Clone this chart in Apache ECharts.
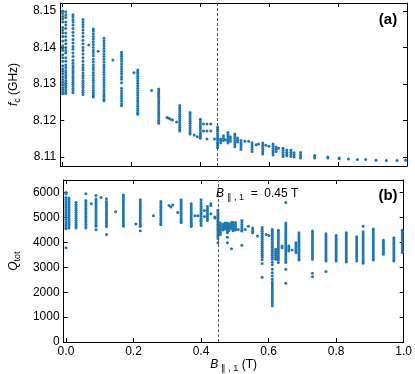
<!DOCTYPE html>
<html>
<head>
<meta charset="utf-8">
<script src="https://cdn.jsdelivr.net/npm/echarts@6/dist/echarts.min.js"></script>
<style>
html,body{margin:0;padding:0;background:#fff;}
#c{width:415px;height:374px;}
</style>
</head>
<body>
<div id="c"></div>
<script>
// ---- data ----
const xTicks = [0, 0.2, 0.4, 0.6, 0.8, 1.0];
const fcTicks = [8.11, 8.12, 8.13, 8.14, 8.15];
const qTicks = [0, 1000, 2000, 3000, 4000, 5000, 6000];
const bMarker = 0.45;

// panel (a): field values (T) and resonance frequencies (GHz) measured at each field
const fcB = [0, 0.009, 0.03, 0.059, 0.076, 0.089, 0.103, 0.12, 0.146, 0.171, 0.207, 0.218, 0.258, 0.279,
  0.303, 0.308, 0.313, 0.319, 0.331, 0.34, 0.37, 0.382, 0.391, 0.4, 0.409, 0.419, 0.43, 0.441, 0.45,
  0.459, 0.467, 0.473, 0.48, 0.487, 0.5, 0.508, 0.518, 0.529, 0.54, 0.55, 0.562, 0.569, 0.581, 0.59,
  0.599, 0.611, 0.62, 0.627, 0.64, 0.651, 0.663, 0.672, 0.691, 0.732, 0.77, 0.803, 0.83, 0.856, 0.88,
  0.91, 0.94, 0.971, 0.996];
const fcVals = [
  [8.1500,8.1493,8.1485,8.1478,8.1470,8.1455,8.1447,8.1440,8.1430,8.1418,8.1405,8.1398,8.1392,8.1380,8.1372,8.1362,8.1350,8.1342,8.1335,8.1328,8.1320,8.1312,8.1305,8.1298,8.1290,8.1284,8.1278,8.1273],
  [8.1498,8.1490,8.1482,8.1470,8.1462,8.1452,8.1440,8.1430,8.1420,8.1410,8.1400,8.1392,8.1385,8.1372,8.1362,8.1352,8.1345,8.1337,8.1330,8.1323,8.1316,8.1309,8.1302,8.1296,8.1290,8.1284,8.1278,8.1274],
  [8.1490,8.1484,8.1477,8.1470,8.1462,8.1452,8.1442,8.1432,8.1422,8.1412,8.1403,8.1395,8.1385,8.1375,8.1365,8.1357,8.1350,8.1343,8.1336,8.1330,8.1323,8.1317,8.1311,8.1305,8.1299,8.1293,8.1287,8.1281,8.1276],
  [8.1477,8.1470,8.1463,8.1456,8.1448,8.1440,8.1430,8.1420,8.1410,8.1400,8.1392,8.1382,8.1372,8.1362,8.1353,8.1345,8.1338,8.1330,8.1323,8.1316,8.1309,8.1302,8.1296,8.1290,8.1283,8.1277,8.1271],
  [8.1407],
  [8.1451,8.1445,8.1438,8.1430,8.1423,8.1416,8.1408,8.1400,8.1392,8.1385,8.1377,8.1368,8.1360,8.1352,8.1345,8.1338,8.1331,8.1324,8.1317,8.1310,8.1303,8.1296,8.1289,8.1282,8.1276,8.1270,8.1264],
  [8.1390],
  [8.1425,8.1418,8.1411,8.1404,8.1397,8.1390,8.1382,8.1375,8.1368,8.1360,8.1353,8.1346,8.1339,8.1332,8.1325,8.1318,8.1311,8.1304,8.1297,8.1290,8.1283,8.1276,8.1270,8.1264,8.1258,8.1254],
  [8.1366],
  [8.1387,8.1381,8.1375,8.1369,8.1362,8.1355,8.1348,8.1341,8.1334,8.1327,8.1320,8.1313,8.1303,8.1288,8.1281,8.1274,8.1267,8.1260,8.1253,8.1246,8.1240],
  [8.1331],
  [8.1338,8.1333,8.1327,8.1321,8.1315,8.1309,8.1302,8.1295,8.1288,8.1282,8.1276,8.1270,8.1263,8.1257,8.1251,8.1245,8.1239,8.1233,8.1227,8.1222,8.1217],
  [8.1282],
  [8.1286,8.1281,8.1276,8.1271,8.1266,8.1260,8.1254,8.1248,8.1242,8.1236,8.1230,8.1224,8.1218,8.1212,8.1206,8.1200,8.1196,8.1192],
  [8.1208],[8.1206],[8.1203],[8.1201],[8.1196],
  [8.1241,8.1235,8.1229,8.1223,8.1217,8.1211,8.1205,8.1199,8.1193,8.1187,8.1181,8.1176,8.1171],
  [8.1222,8.1216,8.1210,8.1204,8.1198,8.1192,8.1186,8.1180,8.1174,8.1168,8.1163],
  [8.1160],[8.1155],
  [8.1203,8.1197,8.1191,8.1185,8.1179,8.1173,8.1167,8.1161,8.1156,8.1151],
  [8.1190,8.1171],
  [8.1190,8.1171,8.1149],
  [8.1190,8.1171],
  [8.1149],
  [8.1181,8.1176,8.1170,8.1164,8.1158,8.1152,8.1146,8.1140,8.1135,8.1130,8.1125],
  [8.1149,8.1144,8.1139],
  [8.1158,8.1152,8.1145],
  [8.1147],
  [8.1167,8.1161,8.1155,8.1149,8.1143,8.1138],
  [8.1155,8.1149,8.1143],
  [8.1163,8.1157,8.1151,8.1145,8.1139,8.1133,8.1128],
  [8.1152,8.1146,8.1141],
  [8.1145,8.1139,8.1133,8.1127,8.1121],
  [8.1143],[8.1143],
  [8.1139,8.1133,8.1127,8.1121,8.1115],
  [8.1133],[8.1135],
  [8.1138,8.1132,8.1126,8.1120,8.1114,8.1108],
  [8.1132],[8.1129],
  [8.1135,8.1129,8.1123,8.1117,8.1111,8.1105],
  [8.1127,8.1121,8.1115],
  [8.1124],
  [8.1124,8.1118,8.1112,8.1106,8.1101],
  [8.1119,8.1113,8.1108,8.1103],
  [8.1119,8.1113,8.1107,8.1101],
  [8.1111,8.1105,8.1100],
  [8.1112,8.1106,8.1100,8.1097],
  [8.1104,8.1100,8.1097],
  [8.1100,8.1097],
  [8.1097,8.1095],
  [8.1094],[8.1093],[8.1093],[8.1091],[8.1090],[8.1090],[8.1091]
];

// panel (b): field values (T) and total quality factors measured at each field
const qB = [0, 0.009, 0.03, 0.059, 0.075, 0.089, 0.104, 0.12, 0.147, 0.17, 0.207, 0.22, 0.259, 0.281,
  0.305, 0.311, 0.316, 0.331, 0.341, 0.371, 0.382, 0.391, 0.4, 0.41, 0.419, 0.429, 0.441, 0.45,
  0.457, 0.465, 0.471, 0.478, 0.483, 0.49, 0.495, 0.502, 0.51, 0.521, 0.531, 0.54, 0.553, 0.567,
  0.581, 0.593, 0.601, 0.611, 0.621, 0.629, 0.64, 0.651, 0.66, 0.67, 0.681, 0.69, 0.73, 0.77, 0.8,
  0.83, 0.861, 0.88, 0.91, 0.94, 0.971, 0.996];
const qVals = [
  [6000,5950,5800,5720,5640,5560,5480,5400,5320,5240,5160,5080,5000,4920,4840,4760,4680,4600,4550,3780],
  [5780,5700,5620,5540,5460,5380,5300,5220,5140,5060,4980,4900,4820,4740,4660,4580],
  [5600,5520,5440,5360,5280,5200,5120,5040,4960,4880,4800,4720,4640,4580],
  [5950,5680,5600,5520,5440,5360,5280,5200,5120,5040,4960,4880,4800,4720,4640,4580],
  [5550],
  [5880,5740,5660,5580,5500,5420,5340,5260,5180,5100,5020,4940,4860,4780,4700,4650,4510],
  [5800],
  [5750,5640,5560,5480,5400,5320,5240,5160,5080,5000,4920,4840,4760,4680,4640,4310],
  [5230],
  [5900,5820,5740,5660,5580,5500,5420,5340,5260,5180,5100,5020,4940,4860,4780,4700,4650],
  [4740],
  [5710,5630,5550,5470,5390,5310,5230,5150,5070,4990,4910,4830,4750,4680,4640,4470],
  [5070],
  [5640,5560,5480,5400,5320,5240,5160,5080,5000,4920,4840,4760,4710],
  [5480],[5420],[5500],[5200],
  [5710,5630,5550,5470,5390,5310,5230,5150,5070,4990,4910,4840,4800],
  [5550,5470,5390,5310,5230,5150,5070,4990,4910,4830,4750,4680,4640],
  [5070],[5070],
  [5710,5600,5520,5440,5360,5280,5200,5120,5040,4960,4880,4840,4750,4680],
  [5280,5040],
  [5440,5360,5280,5200,5120,5040,4960,4880],
  [5550,5480,5150],
  [5020,4980],
  [5290,5220,5150,5080,5010,4940,4870,4800,4730,4660,4590,4520,4450,4380,4310,4240,4150,3980],
  [4780,4700,4620,4540,4460,4380,4315],
  [4730,4650,4570,4500],
  [4780,4700,4620,4540],
  [4780,4700,4620,4540,4460,4380,4200,3980],
  [4740,4660,4580,4480],
  [4800,4720,4640,4560,3740],
  [4800,4720,4640,4560,4460],
  [4800,4720,4640,4560,4500],
  [4520],
  [4880,4800,4720,4640,4560,4480,4450,3880],
  [4520],
  [4650],
  [4580,4500,4420,4380],
  [4250],
  [4600,4520,4440,4360,4280,4200,4120,4040,3960,3880,3800,3720,3640,3560,3480,3400,3300,3150,2600],
  [4315],
  [4275],
  [4520,4440,4360,4280,4200,4120,4040,3960,3880,3800,3720,3640,3560,3480,3400,3320,3200,3100,2920,2780,2650,2520,2420,2340,2260,2180,2100,2020,1940,1860,1780,1700,1620,1540,1460],
  [3720,3640,3560,3480,3400,3320],
  [4490,4410,4330,4250,4170,4090,4010,3930,3850,3770,3690,3610,3530,3450,3370,3290,3190],
  [3850,3780],
  [5600,4780,4700,4620,4540,4460,4380,4300,4220,4140,4060,3980,3900,3820,3740,3660,3580,3500,3420,3340,3260,3190,2920,2360],
  [3850,3780,3700,3650],
  [3690],
  [3980,3900,3820,3740,3660,3590],
  [4380,4300,4220,4140,4060,3980,3900,3820,3740,3660,3580,3500,3420,3340,3290],
  [4450,4370,4290,4210,4130,4050,3970,3890,3810,3730,3650,3570,3490,3410,3320,2760,2620],
  [4340,4260,4180,4100,4020,3940,3860,3780,3700,3620,3540,3460,3380,3300,3250,2830],
  [4275,4195,4115,4035,3955,3875,3795,3715,3635,3555,3475,3395,3315,3250],
  [4380,4300,4220,4140,4060,3980,3900,3820,3740,3660,3580,3500,3420,3340,3260,3210],
  [4220,4140,4060,3980,3900,3820,3740,3660,3580,3500,3420,3340,3250],
  [4650,4420,4340,4260,4180,4100,4020,3940,3860,3780,3700,3620,3540,3460,3380,3300,3220,3160],
  [4540,4460,4380,4300,4220,4140,4060,3980,3900,3820,3740,3660,3580,3500,3420,3340,3290],
  [4080,4000,3920,3840,3760,3680,3600,3520],
  [4180,4100,4020,3940,3860,3780,3700,3620,3540,3460,3380,3300,3250],
  [4490,4410,4330,4250,4170,4090,4010,3930,3850,3770,3690,3610,3590]
];

// ---- build series data ----
function pairs(bs, vals) {
  const out = [];
  bs.forEach((b, i) => vals[i].forEach(v => out.push([b, v])));
  return out;
}
const fcData = pairs(fcB, fcVals);
const qData = pairs(qB, qVals);

const FONT = 'Liberation Sans, Arial, sans-serif';
const BLUE = '#1f77b4';
const richSub = {
  i: { fontStyle: 'italic', fontSize: 12, fontFamily: FONT, color: '#000', lineHeight: 16, verticalAlign: 'middle' },
  s: { fontSize: 9, fontFamily: FONT, color: '#000', lineHeight: 16, verticalAlign: 'bottom' },
  n: { fontSize: 12, fontFamily: FONT, color: '#000', lineHeight: 16, verticalAlign: 'middle' }
};

function xAx(grid, pos, showLabels) {
  return {
    type: 'value', gridIndex: grid, position: pos, min: -0.007, max: 1.0,
    axisLine: { show: true, onZero: false, lineStyle: { color: '#000', width: 1 } },
    axisTick: { show: true, inside: true, length: 4, customValues: xTicks, lineStyle: { color: '#000' } },
    axisLabel: { show: showLabels, customValues: xTicks, margin: 4, fontSize: 12, fontFamily: FONT, color: '#000',
      formatter: v => v.toFixed(1) },
    splitLine: { show: false }
  };
}
function yAx(grid, pos, min, max, ticks, showLabels, fmt) {
  return {
    type: 'value', gridIndex: grid, position: pos, min: min, max: max,
    axisLine: { show: true, onZero: false, lineStyle: { color: '#000', width: 1 } },
    axisTick: { show: true, inside: true, length: 4, customValues: ticks, lineStyle: { color: '#000' } },
    axisLabel: { show: showLabels, customValues: ticks, margin: 4, fontSize: 12, fontFamily: FONT, color: '#000',
      formatter: fmt },
    splitLine: { show: false }
  };
}

const xAxes = [xAx(0, 'bottom', false), xAx(0, 'top', false), xAx(1, 'bottom', true), xAx(1, 'top', false)];
Object.assign(xAxes[2], {
  name: '{i|B}{s| ∥ , 1}{n| (T)}', nameLocation: 'middle', nameGap: 13,
  nameTextStyle: { rich: richSub }
});
const yAxes = [
  yAx(0, 'left', 8.1075, 8.1522, fcTicks, true, v => v.toFixed(2)),
  yAx(0, 'right', 8.1075, 8.1522, fcTicks, false),
  yAx(1, 'left', 0, 6500, qTicks, true, v => String(v)),
  yAx(1, 'right', 0, 6500, qTicks, false)
];
Object.assign(yAxes[0], {
  name: '{i|f}{s|c}{n| (GHz)}', nameLocation: 'middle', nameGap: 30, nameRotate: 90,
  nameTextStyle: { rich: richSub }
});
Object.assign(yAxes[2], {
  name: '{i|Q}{s|tot}', nameLocation: 'middle', nameGap: 30, nameRotate: 90,
  nameTextStyle: { rich: richSub }
});

const markLine = {
  silent: true, symbol: 'none', animation: false,
  label: { show: false },
  lineStyle: { type: [3, 2], color: '#555', width: 1 },
  data: [{ xAxis: bMarker }]
};

const chart = echarts.init(document.getElementById('c'), null, { renderer: 'canvas' });
chart.setOption({
  animation: false,
  backgroundColor: '#fff',
  grid: [
    { left: 47, right: 8, top: 3, height: 163 },
    { left: 47, right: 8, top: 180, height: 163.5 }
  ],
  xAxis: xAxes,
  yAxis: yAxes,
  series: [
    { type: 'scatter', xAxisIndex: 0, yAxisIndex: 0, data: fcData, symbolSize: 3,
      itemStyle: { color: BLUE, opacity: 1 }, markLine: markLine },
    { type: 'scatter', xAxisIndex: 2, yAxisIndex: 2, data: qData, symbolSize: 3,
      itemStyle: { color: BLUE, opacity: 1 }, markLine: markLine }
  ],
  graphic: [
    { type: 'text', x: 388, y: 20, style: { text: '(a)', font: 'bold 15px ' + FONT, fill: '#000', align: 'center', verticalAlign: 'middle' } },
    { type: 'text', x: 388, y: 196, style: { text: '(b)', font: 'bold 15px ' + FONT, fill: '#000', align: 'center', verticalAlign: 'middle' } },
    { type: 'text', x: 216, y: 186, style: { text: '{i|B}{s| ∥ , 1}{n|  =  0.45 T}', rich: richSub, fill: '#000' } }
  ]
});
</script>
</body>
</html>
